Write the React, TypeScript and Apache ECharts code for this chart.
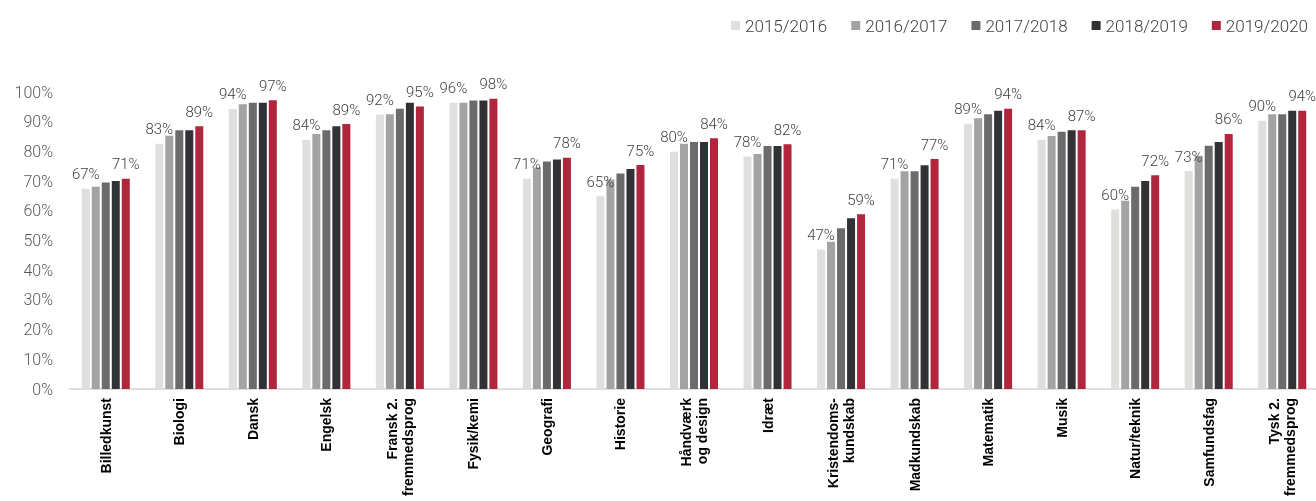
import React, { useEffect, useRef } from "react";
import * as echarts from "echarts";

const categories = [
  "Billedkunst",
  "Biologi",
  "Dansk",
  "Engelsk",
  "Fransk 2.\nfremmedsprog",
  "Fysik/kemi",
  "Geografi",
  "Historie",
  "Håndværk\nog design",
  "Idræt",
  "Kristendoms-\nkundskab",
  "Madkundskab",
  "Matematik",
  "Musik",
  "Natur/teknik",
  "Samfundsfag",
  "Tysk 2.\nfremmedsprog",
];

const seriesNames = ["2015/2016", "2016/2017", "2017/2018", "2018/2019", "2019/2020"];

const y2015 = [67.4, 82.6, 94.3, 83.9, 92.3, 96.4, 70.8, 64.9, 79.9, 78.3, 47.0, 70.8, 89.3, 83.9, 60.4, 73.4, 90.3];
const y2016 = [68.1, 85.3, 95.9, 85.9, 92.5, 96.4, 74.6, 70.5, 82.6, 79.1, 49.6, 73.3, 91.2, 85.2, 63.4, 78.5, 92.5];
const y2017 = [69.5, 87.1, 96.4, 87.1, 94.4, 97.1, 76.6, 72.6, 83.2, 81.8, 54.1, 73.3, 92.5, 86.6, 68.1, 81.9, 92.5];
const y2018 = [70.0, 87.1, 96.4, 88.5, 96.4, 97.1, 77.3, 74.1, 83.2, 81.8, 57.5, 75.3, 93.7, 87.1, 70.0, 83.2, 93.7];
const y2019 = [70.8, 88.5, 97.2, 89.2, 95.1, 97.7, 77.9, 75.4, 84.4, 82.4, 58.8, 77.4, 94.4, 87.1, 72.0, 85.9, 93.7];

const seriesData = [y2015, y2016, y2017, y2018, y2019];
const colors = ["#E0DFDE", "#A3A3A3", "#6B6B6B", "#313236", "#B0263C"];
const labelledSeries = [0, 4];

const yTicks = { min: 0, max: 100, interval: 10 };

export default function App() {
  const ref = useRef<HTMLDivElement>(null);

  useEffect(() => {
    if (!ref.current) return;
    const chart = echarts.init(ref.current, null, { renderer: "svg" });
    const textFont = "Roboto, 'Noto Sans', sans-serif";
    chart.setOption({
      animation: false,
      color: colors,
      legend: {
        top: 12,
        right: 3,
        itemWidth: 9,
        itemHeight: 9,
        itemGap: 24,
        icon: "rect",
        textStyle: { fontFamily: textFont, fontSize: 17, fontWeight: 300, color: "#404040", padding: [0, 0, 0, 0] },
        data: seriesNames,
      },
      grid: { left: 69, right: -3, top: 92, bottom: 112, containLabel: false, outerBoundsMode: "none" },
      xAxis: {
        type: "category",
        data: categories,
        axisLine: { show: true, lineStyle: { color: "#D4D4D4", width: 1.5 } },
        axisTick: { show: false },
        axisLabel: {
          interval: 0,
          rotate: 90,
          margin: 9,
          fontFamily: "'Liberation Sans', Arial, sans-serif",
          fontWeight: "bold",
          fontSize: 14,
          lineHeight: 16,
          color: "#000000",
        },
      },
      yAxis: {
        type: "value",
        min: yTicks.min,
        max: yTicks.max,
        interval: yTicks.interval,
        axisLine: { show: false },
        axisTick: { show: false },
        splitLine: { show: false },
        axisLabel: {
          formatter: "{value}%",
          margin: 16,
          fontFamily: textFont,
          fontSize: 16,
          fontWeight: 300,
          color: "#595959",
        },
      },
      series: seriesNames.map((name, i) => ({
        name,
        type: "bar",
        data: seriesData[i],
        barWidth: 8,
        barGap: "25%",
        itemStyle: { color: colors[i] },
        label: {
          show: labelledSeries.includes(i),
          position: "top",
          distance: 7,
          fontFamily: textFont,
          fontSize: 15,
          fontWeight: 300,
          color: "#404040",
          formatter: (p: any) => `${Math.round(p.value)}%`,
        },
      })),
    });
    return () => chart.dispose();
  }, []);

  return (
    <div
      ref={ref}
      style={{ position: "fixed", left: 0, top: 0, width: 1316, height: 501 }}
    />
  );
}
